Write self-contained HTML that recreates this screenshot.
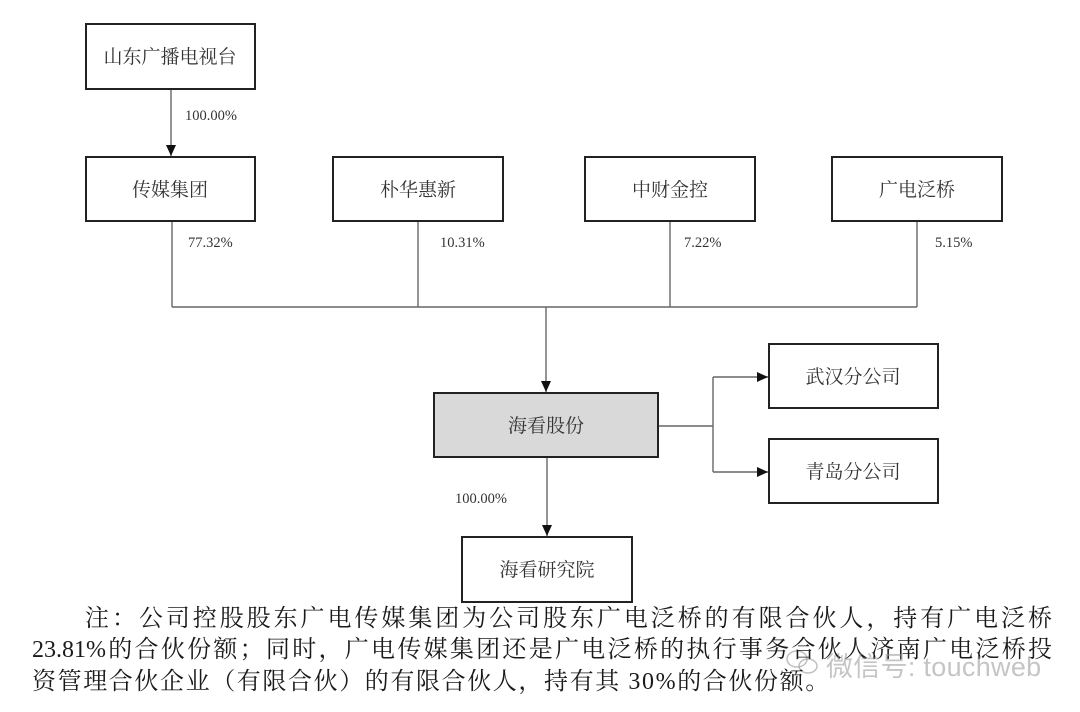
<!DOCTYPE html>
<html>
<head>
<meta charset="utf-8">
<style>
  html,body{margin:0;padding:0;background:#fff;}
  body{width:1080px;height:712px;position:relative;overflow:hidden;}
  svg{position:absolute;left:0;top:0;}
  .note{position:absolute;font-family:"Liberation Serif","Noto Serif CJK SC",serif;font-size:24px;color:#1a1a1a;white-space:nowrap;line-height:31px;}
  .j{text-align:justify;text-align-last:justify;}
  .wm{position:absolute;left:826px;top:645px;font-family:"Liberation Sans","Noto Sans CJK SC",sans-serif;font-size:27px;color:rgba(150,150,150,0.55);white-space:nowrap;letter-spacing:0.3px;}
</style>
</head>
<body>
<svg width="1080" height="712" viewBox="0 0 1080 712" xmlns="http://www.w3.org/2000/svg">
  <defs>
    <marker id="ah" markerWidth="12" markerHeight="12" refX="11" refY="5" orient="auto" markerUnits="userSpaceOnUse">
      <path d="M0,0 L11,5 L0,10 Z" fill="#111"/>
    </marker>
  </defs>
  <g fill="none" stroke="#666" stroke-width="1.4">
    <line x1="171" y1="89" x2="171" y2="156" marker-end="url(#ah)"/>
    <line x1="172" y1="221" x2="172" y2="307"/>
    <line x1="418" y1="221" x2="418" y2="307"/>
    <line x1="670" y1="221" x2="670" y2="307"/>
    <line x1="917" y1="221" x2="917" y2="307"/>
    <line x1="172" y1="307" x2="917" y2="307"/>
    <line x1="546" y1="307" x2="546" y2="392" marker-end="url(#ah)"/>
    <line x1="658" y1="426" x2="713" y2="426"/>
    <line x1="713" y1="377" x2="713" y2="472"/>
    <line x1="713" y1="377" x2="768" y2="377" marker-end="url(#ah)"/>
    <line x1="713" y1="472" x2="768" y2="472" marker-end="url(#ah)"/>
    <line x1="547" y1="457" x2="547" y2="536" marker-end="url(#ah)"/>
  </g>
  <g stroke="#222" stroke-width="2" fill="#fff">
    <rect x="86" y="24" width="169" height="65"/>
    <rect x="86" y="157" width="169" height="64"/>
    <rect x="333" y="157" width="170" height="64"/>
    <rect x="585" y="157" width="170" height="64"/>
    <rect x="832" y="157" width="170" height="64"/>
    <rect x="434" y="393" width="224" height="64" fill="#d9d9d9"/>
    <rect x="769" y="344" width="169" height="64"/>
    <rect x="769" y="439" width="169" height="64"/>
    <rect x="462" y="537" width="170" height="65"/>
  </g>
  <g font-family="'Liberation Serif','Noto Serif CJK SC',serif" font-size="19" fill="#333" text-anchor="middle">
    <text x="170" y="63">山东广播电视台</text>
    <text x="170" y="196">传媒集团</text>
    <text x="418" y="196">朴华惠新</text>
    <text x="670" y="196">中财金控</text>
    <text x="917" y="196">广电泛桥</text>
    <text x="546" y="432">海看股份</text>
    <text x="853" y="383">武汉分公司</text>
    <text x="853" y="478">青岛分公司</text>
    <text x="547" y="576">海看研究院</text>
  </g>
  <g font-family="'Liberation Serif',serif" font-size="14.5" fill="#333">
    <text x="185" y="120">100.00%</text>
    <text x="188" y="247">77.32%</text>
    <text x="440" y="247">10.31%</text>
    <text x="684" y="247">7.22%</text>
    <text x="935" y="247">5.15%</text>
    <text x="455" y="503">100.00%</text>
  </g>
  <g fill="none" stroke="rgba(150,150,150,0.6)" stroke-width="1.5">
    <ellipse cx="797" cy="659" rx="10" ry="8"/>
    <ellipse cx="808" cy="666" rx="9" ry="7"/>
  </g>
</svg>
<div class="note j" style="left:85px;top:604px;width:967px;">注：公司控股股东广电传媒集团为公司股东广电泛桥的有限合伙人，持有广电泛桥</div>
<div class="note j" style="left:32px;top:635px;width:1020px;">23.81%的合伙份额；同时，广电传媒集团还是广电泛桥的执行事务合伙人济南广电泛桥投</div>
<div class="note" style="left:32px;top:667px;letter-spacing:1.6px;">资管理合伙企业（有限合伙）的有限合伙人，持有其 30%的合伙份额。</div>
<div class="wm">微信号: touchweb</div>
</body>
</html>
